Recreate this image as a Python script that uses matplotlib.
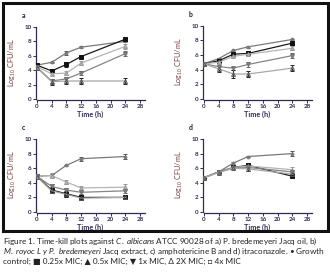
import matplotlib
matplotlib.use("Agg")
import matplotlib.pyplot as plt
from matplotlib.patches import Rectangle

plt.rcParams['font.family'] = ['Lato', 'DejaVu Sans']
plt.rcParams['mathtext.fontset'] = 'custom'
plt.rcParams['mathtext.rm'] = 'Lato'
plt.rcParams['mathtext.it'] = 'Lato:italic'
plt.rcParams['mathtext.bf'] = 'Lato:bold'

time = [0, 4, 8, 12, 24]
series_names = ["Growth control", "0.25x MIC", "0.5x MIC", "1x MIC", "2X MIC"]

# panel a
a_vals = {
    "Growth control": [4.7, 5.1, 6.4, 7.2, 8.0],
    "0.25x MIC": [4.7, 3.9, 4.8, 5.9, 8.3],
    "0.5x MIC": [4.5, 3.5, 3.6, 5.0, 7.3],
    "1x MIC": [4.4, 2.5, 2.8, 3.6, 6.3],
    "2X MIC": [4.3, 2.4, 2.5, 2.5, 2.5],
}
a_err = {
    "Growth control": [0.1, 0.1, 0.3, 0.1, 0.1],
    "0.25x MIC": [0.1, 0.3, 0.3, 0.1, 0.1],
    "0.5x MIC": [0.1, 0.2, 0.3, 0.3, 0.3],
    "1x MIC": [0.1, 0.3, 0.3, 0.3, 0.3],
    "2X MIC": [0.1, 0.4, 0.4, 0.4, 0.4],
}
# panel b
b_vals = {
    "Growth control": [4.8, 5.5, 6.6, 7.1, 8.1],
    "0.25x MIC": [4.8, 5.2, 6.1, 6.2, 7.6],
    "0.5x MIC": [4.8, 5.0, 5.8, 6.1, 6.9],
    "1x MIC": [4.8, 4.4, 4.2, 4.7, 5.9],
    "2X MIC": [4.8, 4.1, 3.4, 3.4, 4.2],
}
b_err = {
    "Growth control": [0.05, 0.1, 0.1, 0.1, 0.1],
    "0.25x MIC": [0.05, 0.1, 0.1, 0.1, 0.2],
    "0.5x MIC": [0.05, 0.1, 0.1, 0.3, 0.3],
    "1x MIC": [0.05, 0.3, 0.2, 0.3, 0.3],
    "2X MIC": [0.05, 0.4, 0.5, 0.4, 0.4],
}
# panel c
c_vals = {
    "Growth control": [4.9, 5.0, 6.4, 7.3, 7.6],
    "0.25x MIC": [4.9, 3.0, 2.5, 2.0, 2.0],
    "0.5x MIC": [4.9, 5.0, 4.1, 3.3, 3.4],
    "1x MIC": [4.9, 3.5, 3.0, 2.7, 2.9],
    "2X MIC": [4.8, 2.9, 2.4, 1.9, 2.0],
}
c_err = {
    "Growth control": [0.1, 0.2, 0.1, 0.3, 0.3],
    "0.25x MIC": [0.1, 0.4, 0.4, 0.3, 0.1],
    "0.5x MIC": [0.1, 0.3, 0.3, 0.3, 0.4],
    "1x MIC": [0.1, 0.4, 0.3, 0.3, 0.3],
    "2X MIC": [0.1, 0.3, 0.3, 0.3, 0.1],
}
# panel d
d_vals = {
    "Growth control": [4.7, 5.5, 6.7, 7.6, 8.0],
    "0.25x MIC": [4.7, 5.5, 6.1, 6.4, 4.9],
    "0.5x MIC": [4.7, 5.5, 6.1, 6.3, 5.8],
    "1x MIC": [4.7, 5.5, 6.0, 6.1, 5.5],
    "2X MIC": [4.7, 5.4, 6.0, 5.9, 5.2],
}
d_err = {
    "Growth control": [0.1, 0.1, 0.1, 0.1, 0.3],
    "0.25x MIC": [0.1, 0.1, 0.1, 0.1, 0.1],
    "0.5x MIC": [0.1, 0.1, 0.1, 0.1, 0.3],
    "1x MIC": [0.1, 0.1, 0.1, 0.1, 0.2],
    "2X MIC": [0.1, 0.1, 0.1, 0.3, 0.2],
}

panel_labels = ["a", "b", "c", "d"]
xticks = [0, 4, 8, 12, 16, 20, 24, 28]
yticks = [0, 2, 4, 6, 8, 10]

styles = {
    "Growth control": dict(color="#7a7a7a", marker="o", ms=2.0, mfc="#7a7a7a", mec="#7a7a7a"),
    "0.25x MIC": dict(color="#1a1a1a", marker="s", ms=3.2, mfc="#111111", mec="#111111"),
    "0.5x MIC": dict(color="#b5b5b5", marker="^", ms=2.8, mfc="#b5b5b5", mec="#9a9a9a"),
    "1x MIC": dict(color="#858585", marker="v", ms=2.8, mfc="#858585", mec="#707070"),
    "2X MIC": dict(color="#a8a8a8", marker="^", ms=2.8, mfc="none", mec="#555555"),
}
ecols = {
    "Growth control": "#555555",
    "0.25x MIC": "#111111",
    "0.5x MIC": "#999999",
    "1x MIC": "#666666",
    "2X MIC": "#222222",
}

W, H = 330, 273
fig = plt.figure(figsize=(W / 100, H / 100), dpi=100)

navy = "#2e2a55"
ylab_col = "#7a3b3b"

# panel geometry in pixels: left of axis, y of value 0, px per y unit
geom = [
    (37, 99, 7.2),
    (204, 99, 7.35),
    (37, 212, 7.3),
    (204, 212, 7.3),
]
pxx = 103 / 28.0
datasets = [(a_vals, a_err), (b_vals, b_err), (c_vals, c_err), (d_vals, d_err)]

for (lx, by, pyu), (vals, errs), lab in zip(geom, datasets, panel_labels):
    xmin, xmax = -0.3, 29.3
    ymin, ymax = -0.1, 10.2
    left = lx + xmin * pxx
    width = (xmax - xmin) * pxx
    bottom = by - ymin * pyu
    height = (ymax - ymin) * pyu
    ax = fig.add_axes([left / W, 1 - bottom / H, width / W, height / H])
    for name in series_names:
        st = styles[name]
        ax.errorbar(time, vals[name], yerr=errs[name], color=st["color"], lw=0.9,
                    marker=st["marker"], ms=st["ms"], mfc=st["mfc"], mec=st["mec"],
                    mew=0.7, ecolor=ecols[name], elinewidth=0.8, capsize=1.6, capthick=0.8,
                    zorder=3)
    ax.set_xlim(xmin, xmax)
    ax.set_ylim(ymin, ymax)
    ax.set_xticks(xticks)
    ax.set_yticks(yticks)
    for s in ["top", "right"]:
        ax.spines[s].set_visible(False)
    for s in ["left", "bottom"]:
        ax.spines[s].set_color(navy)
        ax.spines[s].set_linewidth(0.9)
    ax.spines["left"].set_bounds(0, 10)
    ax.spines["bottom"].set_bounds(0, 29.3)
    ax.tick_params(axis="both", direction="out", length=2, width=0.7, color=navy,
                   labelsize=4.5, labelcolor=navy, pad=1)
    for t in ax.get_xticklabels() + ax.get_yticklabels():
        t.set_fontweight("bold")
    ax.set_xlabel("Time (h)", fontsize=5.2, fontweight="bold", color=navy, labelpad=1)
    ax.set_ylabel("Log$_{10}$ CFU/mL", fontsize=5.2, color=ylab_col, labelpad=5)
    ax.text(-0.11, 1.13, lab, transform=ax.transAxes, fontsize=5, fontweight="bold",
            color="#222222", ha="center", va="center")

# frame box
fig.patches.append(Rectangle((2.5 / W, 1 - 231 / H), 325 / W, 228.5 / H,
                             transform=fig.transFigure, fill=False, ec="#111111",
                             lw=2.2))

caption_lines = [
    r"Figure 1. Time-kill plots against $\mathit{C.\ albicans}$ ATCC 90028 of a) P. bredemeyeri Jacq oil, b)",
    r"$\mathit{M.\ royoc\ L\ y\ P.\ bredemeyeri}$ Jacq extract, c) amphotericine B and d) itraconazole. • Growth",
    "control; \u25A0 0.25x MIC; \u25B2 0.5x MIC; \u25BC 1x MIC, \u0394 2X MIC; \u25A1 4x MIC",
]
for i, line in enumerate(caption_lines):
    fig.text(3 / W, 1 - (241 + 10.2 * i) / H, line, fontsize=5.9, color="#222222",
             ha="left", va="center")

fig.savefig("out.png", dpi=100)
